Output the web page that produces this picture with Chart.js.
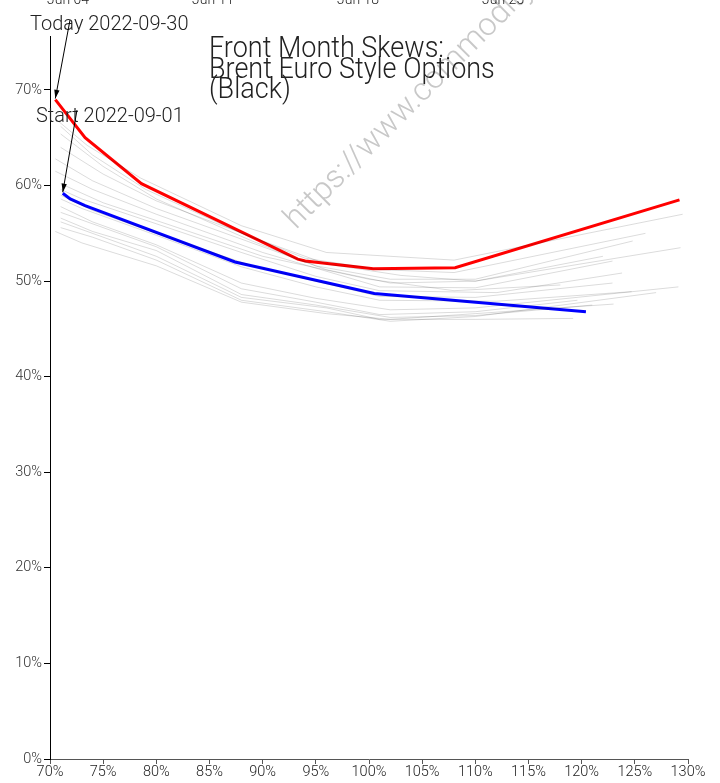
<!DOCTYPE html>
<html>
<head>
<meta charset="utf-8">
<script src="https://cdn.jsdelivr.net/npm/chart.js@4"></script>
<style>
  html, body { margin: 0; padding: 0; background: #fff; }
  #wrap { width: 720px; height: 783px; position: relative; }
</style>
</head>
<body>
<div id="wrap"><canvas id="chart"></canvas></div>
<script>
// Today (2022-09-30) skew: moneyness % and implied vol %
const todayX = [70.5, 73.3, 78.6, 93.3, 94.0, 100.4, 108.1, 129.2];
const todayY = [69.0, 65.0, 60.2, 52.3, 52.1, 51.3, 51.4, 58.5];

// Start (2022-09-01) skew
const startX = [71.2, 71.9, 73.3, 87.4, 100.5, 120.4];
const startY = [59.2, 58.6, 57.9, 52.0, 48.7, 46.8];

// Days in between, [moneyness, vol]
const grayCurves = [
    [[70.5, 67.0], [73.5, 64.2], [78.5, 60.8], [88, 55.8], [96, 53.0], [108, 52.2], [129.5, 57.0]],
    [[71, 66.2], [74, 63.2], [79, 59.6], [88, 55.0], [94, 52.4], [101, 51.2], [108, 50.9], [126, 55.0]],
    [[71, 65.4], [75, 62.0], [80, 58.6], [89, 54.2], [95, 51.6], [102, 50.2], [110, 50.2], [124.8, 54.2]],
    [[71, 64.0], [75, 61.2], [80, 58.4], [90, 54.2], [96, 51.8], [103, 50.6], [110, 50.0], [122, 52.6]],
    [[70.5, 62.8], [74, 60.5], [80, 57.6], [90, 53.6], [96, 51.2], [102, 49.8], [110, 50.0], [129.3, 53.5]],
    [[70.5, 61.5], [74, 59.6], [80, 57.0], [90, 53.0], [101, 49.4], [110, 49.3], [122.9, 52.1]],
    [[71, 60.2], [75, 58.2], [82, 55.6], [90, 52.6], [100, 50.2], [108, 49.0], [118, 49.6]],
    [[71, 59.6], [73, 58.6], [80, 56.0], [88, 53.0], [95, 50.5], [101, 49.0], [112, 48.8], [123.8, 50.85]],
    [[71, 59.0], [74, 57.4], [80, 55.0], [89, 51.6], [101, 48.4], [110, 48.3], [122.9, 49.8]],
    [[71, 58.6], [73, 57.6], [80, 54.8], [88, 51.5], [95, 49.4], [101, 48.0], [112, 47.9], [124.7, 48.9]],
    [[71, 57.8], [74, 56.2], [80, 53.8], [88, 49.8], [95, 48.2], [102, 47.0], [110, 47.2], [129.1, 49.4]],
    [[71, 57.2], [73, 56.4], [80, 53.6], [88, 49.2], [95, 47.8], [101, 46.5], [110, 46.8], [119.6, 48.0]],
    [[71, 56.6], [74, 55.2], [80, 53.2], [88, 48.6], [95, 47.5], [102, 46.2], [110, 46.4], [121, 47.5]],
    [[71, 56.2], [73, 55.4], [80, 52.6], [88, 48.3], [96, 47.2], [101, 46.0], [110, 46.0], [119.2, 46.1]],
    [[71, 55.6], [74, 54.6], [80, 52.2], [88, 48.0], [96, 46.8], [102, 45.8], [110, 46.3], [127, 48.8]],
    [[70.5, 55.2], [73, 54.0], [80, 51.6], [88, 47.8], [96, 46.6], [102, 46.0], [110, 46.6], [123, 47.6]]
];

const titleLines = ["Front Month Skews:", "Brent Euro Style Options", "(Black)"];
const topDates = ["Jun 04", "Jun 11", "Jun 18", "Jun 25"];

const FONT = "Roboto";

function pts(xs, ys) {
    return xs.map((x, i) => ({ x: x, y: ys[i] }));
}

function arrow(ctx, x1, y1, x2, y2) {
    const a = Math.atan2(y2 - y1, x2 - x1);
    ctx.beginPath();
    ctx.moveTo(x1, y1);
    ctx.lineTo(x2, y2);
    ctx.stroke();
    ctx.beginPath();
    ctx.moveTo(x2, y2);
    ctx.lineTo(x2 - 9 * Math.cos(a - 0.3), y2 - 9 * Math.sin(a - 0.3));
    ctx.lineTo(x2 - 9 * Math.cos(a + 0.3), y2 - 9 * Math.sin(a + 0.3));
    ctx.closePath();
    ctx.fill();
}

// text a bit taller than wide, like the original svg
function tallText(ctx, text, x, y, sy) {
    ctx.save();
    ctx.translate(x, y);
    ctx.scale(1, sy);
    ctx.fillText(text, 0, 0);
    ctx.restore();
}

// watermark under the lines
const watermark = {
    id: "watermark",
    beforeDatasetsDraw(chart) {
        const ctx = chart.ctx;
        ctx.save();
        ctx.translate(296, 230);
        ctx.rotate(-Math.PI / 4);
        ctx.font = "300 32px " + FONT;
        ctx.fillStyle = "#c8c8c8";
        ctx.textBaseline = "alphabetic";
        ctx.fillText("https://www.commodity.report", 0, 0);
        ctx.restore();
    }
};

// title, notes, arrows
const notes = {
    id: "notes",
    afterDraw(chart) {
        const ctx = chart.ctx;
        const xs = chart.scales.x, ys = chart.scales.y;
        ctx.save();
        ctx.fillStyle = "#222";
        ctx.font = "300 14px " + FONT;
        ctx.textAlign = "center";
        ctx.textBaseline = "alphabetic";
        [68, 213, 358, 503].forEach((cx, i) => ctx.fillText(topDates[i], cx, 4));

        ctx.textAlign = "left";
        ctx.font = "300 27px " + FONT;
        titleLines.forEach((t, i) => tallText(ctx, t, 209, 57 + i * 20.5, 1.12));

        ctx.font = "300 20px " + FONT;
        tallText(ctx, "Today 2022-09-30", 30, 30, 1.05);
        tallText(ctx, "Start 2022-09-01", 36, 122, 1.05);

        ctx.strokeStyle = "#000";
        ctx.fillStyle = "#000";
        ctx.lineWidth = 1;
        arrow(ctx, 70, 20, xs.getPixelForValue(todayX[0]), ys.getPixelForValue(todayY[0]) - 1);
        arrow(ctx, 77, 110, xs.getPixelForValue(startX[0]), ys.getPixelForValue(startY[0]) - 1);
        ctx.restore();
    }
};

const datasets = grayCurves.map(c => ({
    data: c.map(p => ({ x: p[0], y: p[1] })),
    borderColor: "rgba(0,0,0,0.14)",
    borderWidth: 1
}));
datasets.push({ data: pts(startX, startY), borderColor: "#0000ff", borderWidth: 3 });
datasets.push({ data: pts(todayX, todayY), borderColor: "#ff0000", borderWidth: 3 });

new Chart(document.getElementById("chart"), {
    type: "scatter",
    data: { datasets: datasets },
    options: {
        responsive: true,
        maintainAspectRatio: false,
        animation: false,
        showLine: true,
        layout: { padding: { top: 36, right: 32, left: 0, bottom: 0 } },
        elements: { point: { radius: 0 }, line: { tension: 0 } },
        plugins: { legend: { display: false }, tooltip: { enabled: false } },
        scales: {
            x: {
                type: "linear",
                min: 70,
                max: 130,
                afterFit: s => { s.height = 24; },
                grid: { drawOnChartArea: false, drawTicks: true, tickLength: 5, color: "#555" },
                border: { color: "#555", width: 1 },
                ticks: {
                    stepSize: 5,
                    padding: 0,
                    maxRotation: 0,
                    color: "#222",
                    font: { family: FONT, size: 14.5, weight: "300" },
                    callback: v => v + "%"
                }
            },
            y: {
                min: 0,
                max: 75.65,
                afterFit: s => { s.width = 50; },
                grid: { drawOnChartArea: false, drawTicks: true, tickLength: 6, color: "#000" },
                border: { color: "#000", width: 1 },
                ticks: {
                    stepSize: 10,
                    includeBounds: false,
                    padding: 2,
                    color: "#333",
                    font: { family: FONT, size: 14.5, weight: "300" },
                    callback: v => v + "%"
                }
            }
        }
    },
    plugins: [watermark, notes]
});
</script>
</body>
</html>
